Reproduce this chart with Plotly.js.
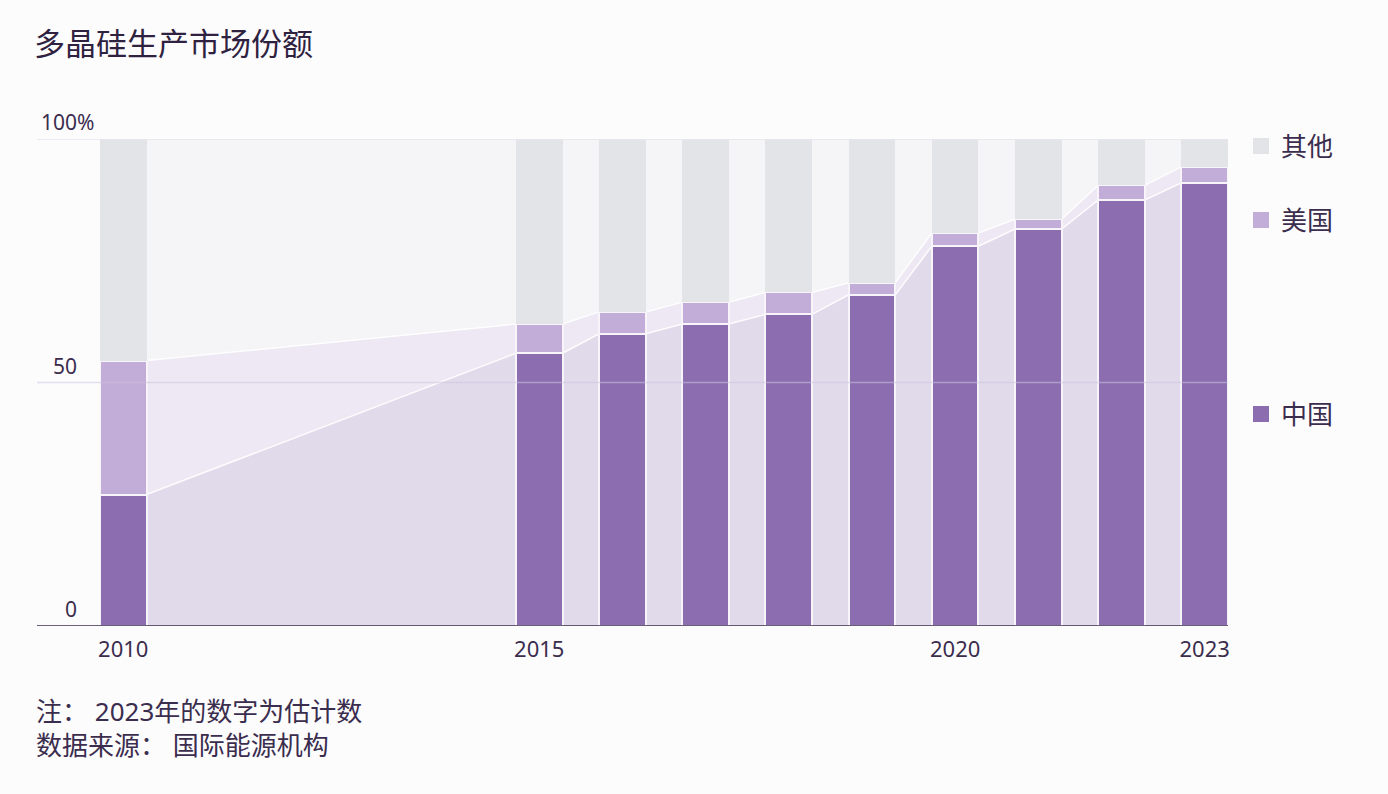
<!DOCTYPE html>
<html><head><meta charset="utf-8">
<script src="https://cdn.plot.ly/plotly-3.0.1.min.js"></script>
<style>html,body{margin:0;padding:0;background:#fcfcfd}</style>
</head><body>
<div id="chart" style="width:1388px;height:794px"></div>
<script>
// ---- data ----
const years  = [2010, 2015, 2016, 2017, 2018, 2019, 2020, 2021, 2022, 2023];
const china  = [27, 56, 60, 62, 64, 68, 78, 81.5, 87.5, 91];
const usa    = [27.5, 6, 4.5, 4.5, 4.5, 2.5, 2.7, 2, 3, 3.3];
const others = [45.5, 38, 35.5, 33.5, 31.5, 29.5, 19.3, 16.5, 9.5, 5.7];
const seriesNames = ['中国', '美国', '其他'];
const xTickVals = [2010, 2015, 2020, 2023];
const xTickText = ['2010', '2015', '2020', '2023'];
const yTickVals = [0, 50, 100];
const yTickText = ['0', '50', '100'];
const titleText = '多晶硅生产市场份额';
const notes = ['注：&nbsp;2023年的数字为估计数', '数据来源：&nbsp;国际能源机构'];

// ---- style ----
const FONT = '"Noto Sans", "Noto Sans CJK SC", sans-serif';
const TXT = '#3b2d4d';
const C_CN = '#8b6db0', C_US = '#c2acd8', C_OT = '#e2e4e8';
const BW = 0.56;
const L = 100, R = 1228, T = 139, B = 626;
const xp = px => (px - L) / (R - L);
const yp = py => (B - py) / (B - T);

// area polygons along bar edges
const ax = [], yCn = [], yUs = [];
years.forEach((yr, i) => {
  ax.push(yr - BW / 2, yr + BW / 2);
  yCn.push(china[i], china[i]);
  yUs.push(china[i] + usa[i], china[i] + usa[i]);
});

const traces = [
  {type: 'scatter', mode: 'lines', x: ax, y: yUs, fill: 'tozeroy', fillcolor: '#ede8f3',
   line: {color: 'rgba(255,255,255,0.9)', width: 1.5}, showlegend: false, hoverinfo: 'skip'},
  {type: 'scatter', mode: 'lines', x: ax, y: yCn, fill: 'tozeroy', fillcolor: '#e1daea',
   line: {color: 'rgba(255,255,255,0.9)', width: 1.5}, showlegend: false, hoverinfo: 'skip'},
  {type: 'bar', x: years, y: china, name: seriesNames[0], width: BW, xaxis: 'x2', yaxis: 'y2',
   marker: {color: C_CN, line: {color: '#f7f5fa', width: 2}}, showlegend: false},
  {type: 'bar', x: years, y: usa, name: seriesNames[1], width: BW, xaxis: 'x2', yaxis: 'y2',
   marker: {color: C_US, line: {color: '#f7f5fa', width: 2}}, showlegend: false},
  {type: 'bar', x: years, y: others, name: seriesNames[2], width: BW, xaxis: 'x2', yaxis: 'y2',
   marker: {color: C_OT, line: {color: '#f7f5fa', width: 0}}, showlegend: false},
  // legend entries
  {type: 'scatter', mode: 'markers', x: [null], y: [null], name: seriesNames[2], legend: 'legend',
   marker: {symbol: 'square', size: 16, color: C_OT}},
  {type: 'scatter', mode: 'markers', x: [null], y: [null], name: seriesNames[1], legend: 'legend2',
   marker: {symbol: 'square', size: 16, color: C_US}},
  {type: 'scatter', mode: 'markers', x: [null], y: [null], name: seriesNames[0], legend: 'legend3',
   marker: {symbol: 'square', size: 16, color: C_CN}}
];

const legendBase = {xref: 'paper', yref: 'paper', x: xp(1241), xanchor: 'left', yanchor: 'middle',
  bgcolor: 'rgba(0,0,0,0)', font: {family: FONT, size: 26, color: TXT}, itemclick: false};

const annotations = [];
yTickVals.forEach((v, i) => {
  annotations.push({xref: 'paper', yref: 'y', x: xp(79), y: v, text: yTickText[i],
    xanchor: 'right', yanchor: 'bottom', yshift: 1, showarrow: false,
    font: {family: FONT, size: 21, color: TXT}});
});
annotations.push({xref: 'paper', yref: 'y', x: xp(79), y: 100, text: '%',
  xanchor: 'left', yanchor: 'bottom', yshift: 1, xshift: -4, showarrow: false,
  font: {family: FONT, size: 21, color: TXT}});
notes.forEach((t, i) => {
  annotations.push({xref: 'paper', yref: 'paper', x: xp(34), y: yp(711 + i * 34), text: t,
    xanchor: 'left', yanchor: 'middle', showarrow: false,
    font: {family: FONT, size: 26, color: TXT}});
});

const layout = {
  width: 1388, height: 794,
  margin: {l: L, r: 1388 - R, t: T, b: 794 - B},
  paper_bgcolor: '#fcfcfd', plot_bgcolor: '#f5f5f8',
  barmode: 'stack',
  title: {text: titleText, xref: 'container', yref: 'container', x: 34 / 1388, xanchor: 'left',
    y: 1 - 44 / 794, yanchor: 'middle', font: {family: FONT, size: 31, color: '#2f2240'}},
  xaxis: {range: [2010 - BW / 2, 2023 + BW / 2], tickvals: xTickVals, ticktext: xTickText,
    showgrid: false, zeroline: false, showline: false, ticks: '', ticklabelstandoff: 8,
    tickfont: {family: FONT, size: 22, color: TXT}},
  yaxis: {range: [0, 100], showgrid: false, zeroline: false, showline: false, showticklabels: false, ticks: ''},
  xaxis2: {overlaying: 'x', matches: 'x', visible: false},
  yaxis2: {overlaying: 'y', matches: 'y', visible: false},
  legend: Object.assign({}, legendBase, {y: yp(146)}),
  legend2: Object.assign({}, legendBase, {y: yp(220)}),
  legend3: Object.assign({}, legendBase, {y: yp(414)}),
  shapes: [
    {type: 'line', xref: 'paper', yref: 'y', x0: xp(37), x1: 1, y0: 100, y1: 100,
     line: {color: '#e7e5ee', width: 1.5}, layer: 'above'},
    {type: 'line', xref: 'paper', yref: 'y', x0: xp(37), x1: 1, y0: 50, y1: 50,
     line: {color: 'rgba(205,196,222,0.55)', width: 1.5}, layer: 'above'},
    {type: 'line', xref: 'paper', yref: 'y', x0: xp(37), x1: 1, y0: 0, y1: 0,
     line: {color: '#3b2d4c', width: 1.5}, layer: 'above'}
  ],
  annotations: annotations,
  hovermode: false
};

Plotly.newPlot('chart', traces, layout, {displayModeBar: false, staticPlot: true});
</script>
</body></html>
